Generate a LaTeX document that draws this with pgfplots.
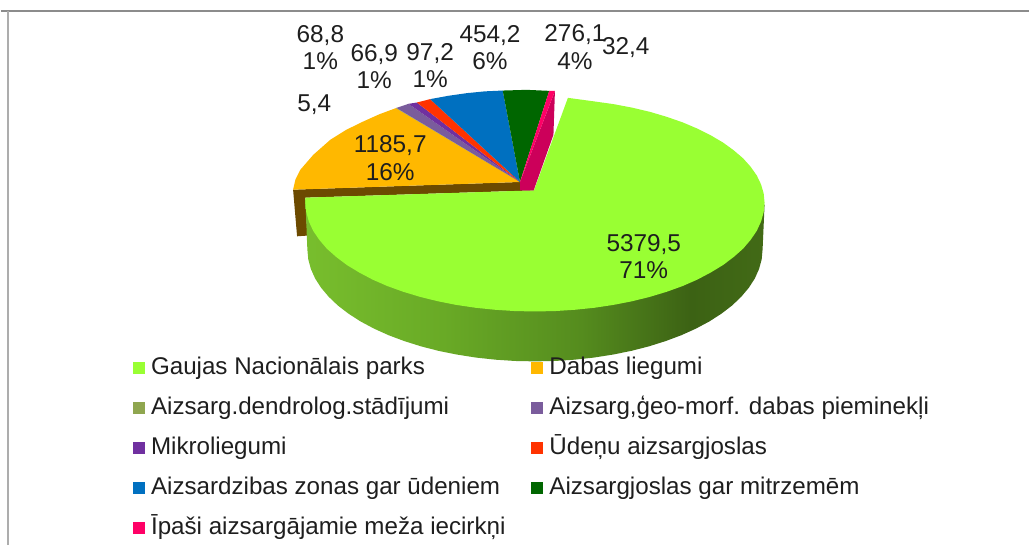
\documentclass[border=0pt]{standalone}
\usepackage{fontspec}
\setmainfont{Liberation Sans}
\usepackage{pgfplots}
\pgfplotsset{compat=1.18}
\definecolor{cgreen}{RGB}{153,255,51}
\definecolor{corange}{RGB}{255,184,0}
\definecolor{cbrown}{RGB}{108,74,0}
\definecolor{cdendro}{RGB}{143,166,79}
\definecolor{cgeo}{RGB}{122,92,156}
\definecolor{cmikro}{RGB}{112,48,160}
\definecolor{cred}{RGB}{255,51,0}
\definecolor{cblue}{RGB}{0,112,192}
\definecolor{cdark}{RGB}{0,102,0}
\definecolor{cpink}{RGB}{255,0,102}
\definecolor{cpinkd}{RGB}{204,0,90}
\definecolor{ctext}{RGB}{30,30,30}
\definecolor{gsa}{RGB}{120,190,45}
\definecolor{gsb}{RGB}{105,170,38}
\definecolor{gsc}{RGB}{85,140,30}
\definecolor{gsd}{RGB}{60,98,20}
\definecolor{gse}{RGB}{66,106,22}
\pgfdeclarehorizontalshading{greenside}{100bp}{color(0bp)=(gsa); color(25bp)=(gsa); color(40bp)=(gsb); color(55bp)=(gsc); color(67bp)=(gsd); color(75bp)=(gse); color(100bp)=(gse)}
\begin{document}
\begin{tikzpicture}
\begin{axis}[
  scale only axis, width=515pt, height=273pt,
  xmin=0, xmax=1030, ymin=0, ymax=546, y dir=reverse,
  hide axis, clip=false,
  legend cell align=left,
  legend columns=2,
  legend image code/.code={\fill[#1,draw=none] (0pt,-3pt) rectangle (6pt,3pt);},
  legend style={at={(axis cs:132,351.5)}, anchor=north west, draw=none, fill=none,
    font=\fontsize{12.1}{13}\selectfont, text=ctext,
    row sep=3.05pt, inner sep=0pt,
    /tikz/column 1/.style={column sep=1.5pt},
    /tikz/column 2/.style={column sep=11.5pt},
    /tikz/column 3/.style={column sep=1.5pt},
    nodes={text height=9.5pt, text depth=3.5pt, inner ysep=2pt, inner xsep=1.5pt}},
]
% page extent
\addplot[draw=none, forget plot] coordinates {(0,0) (1030,546)};
% frame lines
\addplot[draw=black!45, line width=0.9pt, forget plot] coordinates {(0,11) (1030,11)};
\addplot[draw=black!32, line width=0.9pt, forget plot] coordinates {(7,546) (7,11)};
% orange slice front faces
\addplot[fill=cbrown, draw=none, forget plot] coordinates {(292.7,190) (296.7,236.7) (307,236) (305,198) (534,190.7) (520,182.3)} -- cycle;
% green side
\addplot[shading=greenside, draw=none, forget plot] coordinates {
 (305,200) (307,250) (307.9,259.8) (310.5,269.4) (314.8,279) (320.8,288.3) (328.4,297.3) (337.5,306)
 (348.2,314.2) (360.3,322) (373.8,329.2) (388.4,335.8) (404.2,341.7) (421,347) (438.6,351.5)
 (457,355.2) (476,358.2) (495.4,360.3) (515.1,361.6) (535,362) (554.9,361.6) (574.6,360.3)
 (594,358.2) (613,355.2) (631.4,351.5) (649,347) (665.8,341.7) (681.6,335.8) (696.2,329.2)
 (709.7,322) (721.8,314.2) (732.5,306) (741.6,297.3) (749.2,288.3) (755.2,279) (759.5,269.4)
 (762.1,259.8) (763,250) (765,205) (535,200)} -- cycle;
% green top
\addplot[fill=cgreen, draw=none] coordinates {
 (534,190.7) (568,98) (594.5,101.6) (613.7,104.3) (632.2,107.8) (650,112) (666.9,117) (683,122.6)
 (697.6,128.8) (711,135.5) (723.4,142.8) (734,150.5) (743.5,158.6) (751,167) (757.2,175.8)
 (761.5,184.8) (764.1,193.8) (765,203) (764.1,212.5) (761.5,221.9) (757.2,231.2) (751,240.3)
 (743.5,249.1) (734,257.5) (723.4,265.5) (711,273) (697.6,280.1) (683,286.5) (666.9,292.3)
 (650,297.4) (632.2,301.8) (613.7,305.4) (594.5,308.3) (575,310.3) (555,311.6) (535,312)
 (515,311.6) (495,310.3) (475.5,308.3) (456,305.4) (437.8,301.8) (420,297.4) (403.1,292.3)
 (387,286.5) (372.4,280.1) (359,273) (346.6,265.5) (336,257.5) (326.5,249.1) (319,240.3)
 (312.8,231.2) (308.5,221.9) (305.9,212.5) (305,203) (305,198)} -- cycle;
\addlegendentry{Gaujas Nacionālais parks}
% orange top
\addplot[fill=corange, draw=none] coordinates {
 (520,182.3) (292.7,190) (295,180) (300,170) (313,155) (330,140) (346,130) (363,121.7) (379,114.5) (395.7,108.3)} -- cycle;
\addlegendentry{Dabas liegumi}
\addplot[fill=cdendro, draw=none] coordinates {(520,182.3) (395.7,108.3) (396.2,108.1)} -- cycle;
\addlegendentry{Aizsarg.dendrolog.stādījumi}
\addplot[fill=cgeo, draw=none] coordinates {(520,182.3) (396.2,108.1) (408.3,104)} -- cycle;
\addlegendentry{Aizsarg,ģeo-morf. dabas pieminekļi}
\addplot[fill=cmikro, draw=none] coordinates {(520,182.3) (408.3,104) (416.7,102.7)} -- cycle;
\addlegendentry{Mikroliegumi}
\addplot[fill=cred, draw=none] coordinates {(520,182.3) (416.7,102.7) (430,99.3)} -- cycle;
\addlegendentry{Ūdeņu aizsargjoslas}
\addplot[fill=cblue, draw=none] coordinates {(520,182.3) (430,99.3) (448,96) (466.7,93.3) (485,91.5) (502.7,90.7)} -- cycle;
\addlegendentry{Aizsardzibas zonas gar ūdeniem}
\addplot[fill=cdark, draw=none] coordinates {(520,182.3) (502.7,90.7) (526.7,90) (549.3,91)} -- cycle;
\addlegendentry{Aizsargjoslas gar mitrzemēm}
\addplot[fill=cpinkd, draw=none, forget plot] coordinates {(520,182.3) (555,91) (553.5,135) (533.7,190.7) (520,190.7)} -- cycle;
\addplot[fill=cpink, draw=none] coordinates {(520,182.3) (549.3,91) (555,91)} -- cycle;
\addlegendentry{Īpaši aizsargājamie meža iecirkņi}
% data labels
\begin{scope}[every node/.style={font=\fontsize{12.2}{13.7}\selectfont, text=ctext, align=center, inner sep=0pt}]
\node at (axis cs:320,47.5) {68,8\\1\%};
\node at (axis cs:374,66.5) {66,9\\1\%};
\node at (axis cs:430,65.5) {97,2\\1\%};
\node at (axis cs:490,48) {454,2\\6\%};
\node at (axis cs:575,47) {276,1\\4\%};
\node at (axis cs:626,48) {32,4};
\node at (axis cs:314,105) {5,4};
\node at (axis cs:390,158.5) {1185,7\\16\%};
\node at (axis cs:644,257) {5379,5\\71\%};
\end{scope}
\end{axis}
\end{tikzpicture}
\end{document}
